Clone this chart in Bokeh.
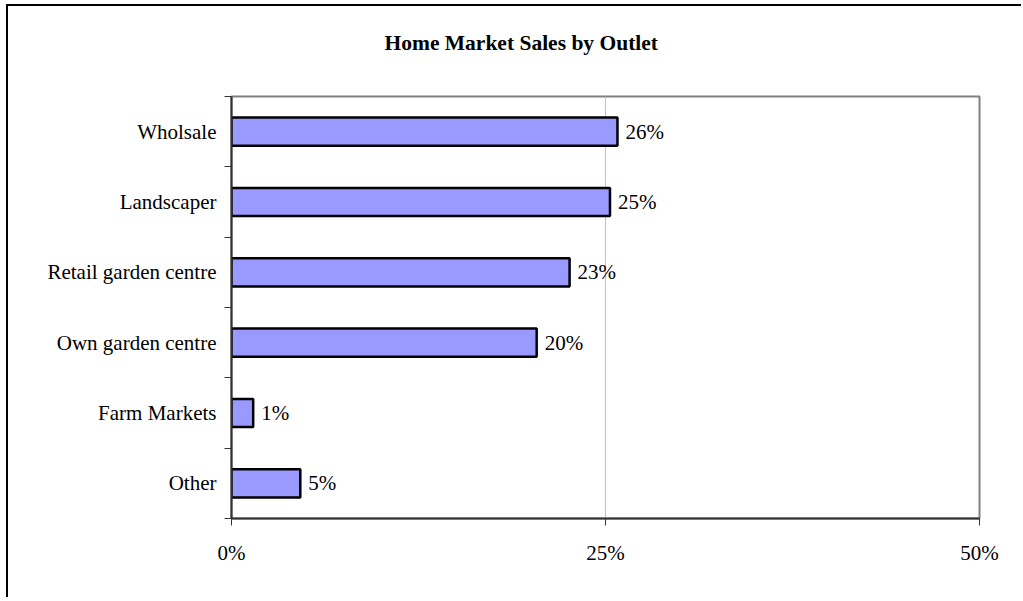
from bokeh.plotting import figure
from bokeh.models import ColumnDataSource, FixedTicker, Range1d, Title
from bokeh.embed import file_html
from bokeh.resources import INLINE
from bokeh.core.properties import value

categories = ["Wholsale", "Landscaper", "Retail garden centre", "Own garden centre", "Farm Markets", "Other"]
shares = [25.8, 25.3, 22.6, 20.4, 1.45, 4.6]
share_labels = ["26%", "25%", "23%", "20%", "1%", "5%"]
x_ticks = [0, 25, 50]
x_tick_labels = ["0%", "25%", "50%"]
title_text = "Home Market Sales by Outlet"

n = len(categories)
pos = [n - i - 0.5 for i in range(n)]

src = ColumnDataSource(dict(cat=categories, val=shares, lab=share_labels, y=pos))

FONT = "Liberation Serif"
FS = "21px"

p = figure(width=1015, height=593, output_backend="svg", toolbar_location=None,
           x_range=Range1d(0, 50), y_range=Range1d(0, n),
           min_border_left=223, min_border_right=44, min_border_top=90, min_border_bottom=81)
p.styles = {"border-left": "2px solid #000000", "border-top": "2px solid #000000",
            "margin-left": "6px", "margin-top": "4px"}
p.background_fill_color = "white"
p.border_fill_color = "white"
p.outline_line_color = "#808080"
p.outline_line_width = 2

t = Title(text=title_text + "\n\u00a0", align="left", text_font=FONT,
          text_font_size="21.5px", text_font_style="bold", text_color="black",
          offset=153, standoff=36)
p.add_layout(t, "above")

p.hbar(y="y", right="val", left=0, height=0.4, source=src,
       fill_color="#9999FF", line_color="black", line_width=2.5)

p.text(x="val", y="y", text="lab", source=src, x_offset=8,
       text_font=value(FONT), text_font_size=FS, text_color="black",
       text_baseline="middle", text_align="left")

# x axis
p.xaxis.ticker = FixedTicker(ticks=x_ticks)
p.xaxis.major_label_overrides = {t_: l for t_, l in zip(x_ticks, x_tick_labels)}
p.xaxis.major_label_text_font = FONT
p.xaxis.major_label_text_font_size = FS
p.xaxis.major_label_text_color = "black"
p.xaxis.axis_line_color = "#333333"
p.xaxis.axis_line_width = 2
p.xaxis.major_tick_line_color = "#333333"
p.xaxis.major_tick_out = 7
p.xaxis.major_tick_in = 0
p.xaxis.minor_tick_line_color = None
p.xaxis.major_label_standoff = 15

# y axis
p.yaxis.ticker = FixedTicker(ticks=pos, minor_ticks=list(range(n + 1)))
p.yaxis.major_label_overrides = {float(y): c for y, c in zip(pos, categories)}
p.yaxis.major_label_text_font = FONT
p.yaxis.major_label_text_font_size = FS
p.yaxis.major_label_text_color = "black"
p.yaxis.axis_line_color = "#333333"
p.yaxis.axis_line_width = 2
p.yaxis.major_tick_line_color = None
p.yaxis.major_tick_out = 0
p.yaxis.major_tick_in = 0
p.yaxis.minor_tick_line_color = "#333333"
p.yaxis.minor_tick_out = 7
p.yaxis.minor_tick_in = 0
p.yaxis.major_label_standoff = 8

p.ygrid.grid_line_color = None
p.xgrid.ticker = FixedTicker(ticks=x_ticks)
p.xgrid.grid_line_color = "#C0C0C0"
p.xgrid.grid_line_width = 1

open("out.html", "w").write(file_html(p, INLINE))
